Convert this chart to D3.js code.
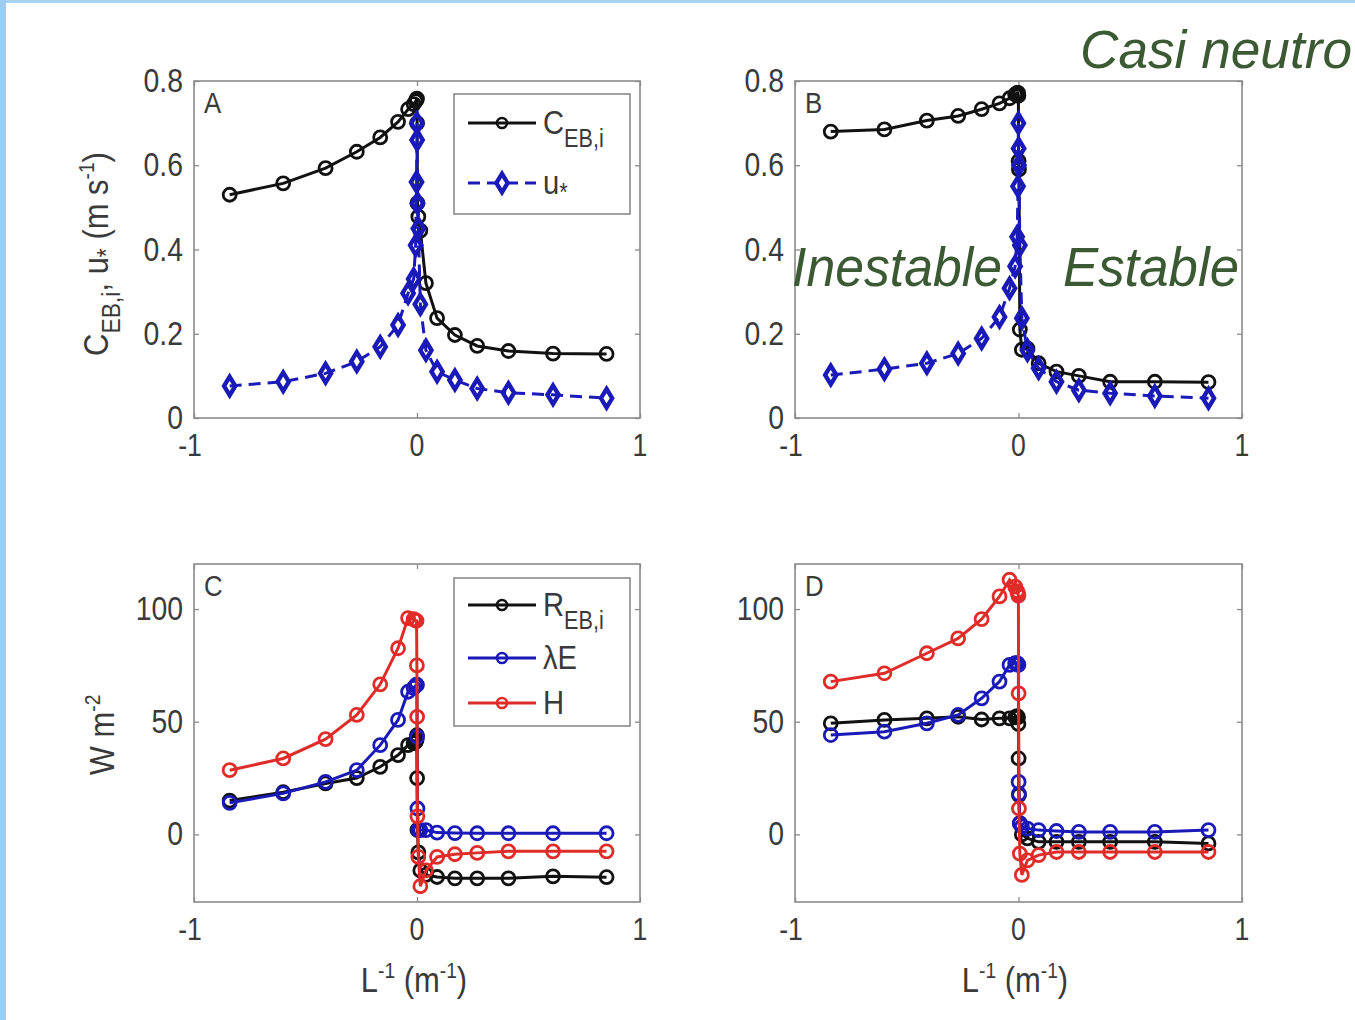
<!DOCTYPE html>
<html>
<head>
<meta charset="utf-8">
<script src="https://cdn.jsdelivr.net/npm/d3@7/dist/d3.min.js"></script>
<style>
  html, body { margin: 0; padding: 0; background: #fff; }
  svg { display: block; }
  text { font-family: "Liberation Sans", Arial, sans-serif; }
</style>
</head>
<body>
<svg id="chart" width="1355" height="1020"></svg>
<script>
// Inverse Obukhov length bins (m^-1), shared by all four panels
const invL = [-0.84, -0.60, -0.41, -0.27, -0.165, -0.085, -0.04, -0.015, -0.006, -0.002, -0.0005,
              0.0005, 0.002, 0.006, 0.015, 0.04, 0.09, 0.17, 0.27, 0.41, 0.61, 0.85];

// Panel A: coefficient C_EB,i and friction velocity u*
const cebA   = [0.53, 0.557, 0.593, 0.632, 0.666, 0.703, 0.733, 0.745, 0.752, 0.756, 0.758,
                0.70, 0.51, 0.478, 0.445, 0.32, 0.237, 0.197, 0.171, 0.159, 0.153, 0.152];
const ustarA = [0.076, 0.086, 0.106, 0.134, 0.169, 0.221, 0.296, 0.33, 0.41, 0.56, 0.70,
                0.66, 0.51, 0.45, 0.27, 0.161, 0.11, 0.09, 0.07, 0.06, 0.055, 0.047];

// Panel B
const cebB   = [0.68, 0.685, 0.706, 0.717, 0.733, 0.747, 0.759, 0.768, 0.772, 0.772, 0.765,
                0.61, 0.59, 0.21, 0.162, 0.165, 0.13, 0.11, 0.10, 0.086, 0.086, 0.085];
const ustarB = [0.102, 0.116, 0.13, 0.153, 0.189, 0.24, 0.308, 0.36, 0.43, 0.55, 0.70,
                0.64, 0.60, 0.41, 0.237, 0.161, 0.118, 0.086, 0.066, 0.059, 0.052, 0.047];

// Panel C: energy fluxes (W m^-2)
const rebC = [15, 18.7, 22.6, 25, 30, 35.2, 39.6, 40.5, 41, 42, 44,
              25, 2, -8, -16, -18, -18.9, -19.5, -19.5, -19.5, -18.6, -19];
const leC  = [14, 18.2, 23.3, 28.5, 39.6, 50.8, 63.3, 65, 66, 66.5, 66.3,
              43.3, 11.5, 1.9, 1.9, 1.9, 0.8, 0.6, 0.5, 0.5, 0.5, 0.5];
const hC   = [28.5, 33.7, 42.3, 53, 66.6, 82.6, 96, 95.5, 95, 94.8, 75,
              52.2, 8, -10, -23, -16, -10, -8.8, -8.2, -7.5, -7.5, -7.5];

// Panel D
const rebD = [49.3, 50.8, 51.5, 52.2, 51, 51.5, 51.5, 52, 52.5, 52, 49,
              33.7, 17.4, 5, 0, -1.8, -3.3, -3.3, -3.3, -3.3, -3.3, -4];
const leD  = [44.1, 45.6, 49.3, 53, 60.4, 67.8, 75.2, 76, 76, 75.5, 75.2,
              23.3, 18, 4.8, 3.5, 2.6, 1.9, 1.5, 1.1, 1.1, 1.1, 1.9];
const hD   = [67.8, 71.5, 80.4, 87, 95.5, 105.6, 113, 110, 108, 107, 106,
              62.6, 11.5, -8.5, -18, -11.5, -9.2, -7.8, -7.8, -7.8, -7.8, -7.8];

const xTicks = [-1, 0, 1];
const yTicksTop = [0, 0.2, 0.4, 0.6, 0.8];
const yTicksBottom = [0, 50, 100];

const BLACK = "#111111", BLUE = "#1a1ab8", RED = "#df2c28";
const TXT = "#3a3a3a", FRAME = "#8a8a8a", GREEN = "#3b5a34";

const svg = d3.select("#chart");

// light blue slide frame along the left and top edges
svg.append("rect").attr("x", 0).attr("y", 0).attr("width", 1355).attr("height", 3).attr("fill", "#a8d2f4");
svg.append("rect").attr("x", 0).attr("y", 0).attr("width", 6).attr("height", 1020).attr("fill", "#9fcdf2");

// text helper: slightly condensed glyphs
function label(g, x, y, anchor, size, parts, rotate) {
  const t = g.append("text")
    .attr("transform", `translate(${x},${y})` + (rotate ? ` rotate(${rotate})` : "") + " scale(0.86,1)")
    .attr("text-anchor", anchor)
    .attr("font-size", size)
    .attr("fill", TXT);
  parts.forEach(p => {
    const s = t.append("tspan").text(p.t);
    if (p.sub) s.attr("font-size", size * 0.74).attr("dy", p.dy);
    if (p.sup) s.attr("font-size", size * 0.62).attr("dy", p.dy);
    if (p.back) s.attr("dy", p.back);
  });
  return t;
}

function marker(g, kind, cx, cy, color) {
  if (kind === "diamond") {
    g.append("path")
      .attr("d", d3.symbol(d3.symbolDiamond, 100)())
      .attr("transform", `translate(${cx},${cy}) scale(1.05,1)`)
      .attr("fill", "none").attr("stroke", color).attr("stroke-width", 4.2);
  } else {
    g.append("circle").attr("cx", cx).attr("cy", cy).attr("r", 6.5)
      .attr("fill", "none").attr("stroke", color).attr("stroke-width", 2.8);
  }
}

function panel(cfg) {
  const g = svg.append("g");
  const x = d3.scaleLinear().domain([-1, 1]).range([cfg.x0, cfg.x1]);
  const y = d3.scaleLinear().domain(cfg.yDomain).range([cfg.y1, cfg.y0]);

  g.append("rect").attr("x", cfg.x0).attr("y", cfg.y0)
    .attr("width", cfg.x1 - cfg.x0).attr("height", cfg.y1 - cfg.y0)
    .attr("fill", "#fff").attr("stroke", FRAME).attr("stroke-width", 1.6);

  // inward ticks on all four sides
  const tl = 5;
  const axB = d3.axisBottom(x).tickValues(xTicks).tickSize(-tl).tickFormat("");
  const axT = d3.axisTop(x).tickValues(xTicks).tickSize(-tl).tickFormat("");
  const axL = d3.axisLeft(y).tickValues(cfg.yTicks).tickSize(-tl).tickFormat("");
  const axR = d3.axisRight(y).tickValues(cfg.yTicks).tickSize(-tl).tickFormat("");
  [[axB, `translate(0,${cfg.y1})`], [axT, `translate(0,${cfg.y0})`],
   [axL, `translate(${cfg.x0},0)`], [axR, `translate(${cfg.x1},0)`]].forEach(([ax, tr]) => {
    const a = g.append("g").attr("transform", tr).call(ax);
    a.select(".domain").remove();
    a.selectAll("line").attr("stroke", FRAME).attr("stroke-width", 1.3);
  });

  // tick labels
  xTicks.forEach(v => {
    label(g, x(v) + (v === -1 ? -4 : 0), cfg.y1 + 38, "middle", 31, [{ t: v < 0 ? "-1" : String(v) }]);
  });
  cfg.yTicks.forEach(v => {
    label(g, cfg.x0 - 11, y(v) + 11, "end", 33, [{ t: cfg.fmt(v) }]);
  });

  label(g, cfg.x0 + 10, cfg.y0 + 32, "start", 30, [{ t: cfg.letter }]);

  const line = d3.line().x((d, i) => x(invL[i])).y(d => y(d));
  cfg.series.forEach(s => {
    g.append("path").datum(s.values)
      .attr("d", line).attr("fill", "none")
      .attr("stroke", s.color).attr("stroke-width", 3)
      .attr("stroke-dasharray", s.dash || null);
    const pts = g.append("g");
    s.values.forEach((d, i) => marker(pts, s.marker, x(invL[i]), y(d), s.color));
  });
  return { g, x, y };
}

const topCfg = { y0: 81, y1: 418, yDomain: [0, 0.8], yTicks: yTicksTop, fmt: d => d === 0 ? "0" : String(d) };
const botCfg = { y0: 564, y1: 902, yDomain: [-30, 120], yTicks: yTicksBottom, fmt: d => String(d) };

panel(Object.assign({}, topCfg, { x0: 194, x1: 640, letter: "A", series: [
  { values: cebA, color: BLACK, marker: "circle" },
  { values: ustarA, color: BLUE, marker: "diamond", dash: "12,7" }
]}));
panel(Object.assign({}, topCfg, { x0: 795, x1: 1242, letter: "B", series: [
  { values: cebB, color: BLACK, marker: "circle" },
  { values: ustarB, color: BLUE, marker: "diamond", dash: "12,7" }
]}));
panel(Object.assign({}, botCfg, { x0: 194, x1: 640, letter: "C", series: [
  { values: rebC, color: BLACK, marker: "circle" },
  { values: leC, color: BLUE, marker: "circle" },
  { values: hC, color: RED, marker: "circle" }
]}));
panel(Object.assign({}, botCfg, { x0: 795, x1: 1242, letter: "D", series: [
  { values: rebD, color: BLACK, marker: "circle" },
  { values: leD, color: BLUE, marker: "circle" },
  { values: hD, color: RED, marker: "circle" }
]}));

// legends
function legend(x0, y0, w, h, rows) {
  const g = svg.append("g");
  g.append("rect").attr("x", x0).attr("y", y0).attr("width", w).attr("height", h)
    .attr("fill", "#fff").attr("stroke", FRAME).attr("stroke-width", 1.6);
  rows.forEach(r => {
    g.append("line").attr("x1", x0 + 14).attr("x2", x0 + 82).attr("y1", r.y).attr("y2", r.y)
      .attr("stroke", r.color).attr("stroke-width", 3).attr("stroke-dasharray", r.dash || null);
    if (r.marker === "diamond") {
      marker(g, "diamond", x0 + 48, r.y, r.color);
    } else {
      g.append("circle").attr("cx", x0 + 48).attr("cy", r.y).attr("r", 5)
        .attr("fill", "none").attr("stroke", r.color).attr("stroke-width", 2.6);
    }
    label(g, x0 + 89, r.y + 11, "start", 34, r.parts);
  });
}
legend(454, 94, 176, 120, [
  { y: 123, color: BLACK, marker: "circle", parts: [{ t: "C" }, { t: "EB,i", sub: true, dy: 13 }] },
  { y: 183, color: BLUE, marker: "diamond", dash: "12,7", parts: [{ t: "u" }, { t: "*", sub: true, dy: 7 }] }
]);
legend(454, 578, 176, 148, [
  { y: 605, color: BLACK, marker: "circle", parts: [{ t: "R" }, { t: "EB,i", sub: true, dy: 13 }] },
  { y: 658, color: BLUE, marker: "circle", parts: [{ t: "λE" }] },
  { y: 703, color: RED, marker: "circle", parts: [{ t: "H" }] }
]);

// axis titles
label(svg, 108, 254, "middle", 36, [
  { t: "C" }, { t: "EB,i", sub: true, dy: 12 }, { t: ", u", back: -12 }, { t: "*", sub: true, dy: 7 },
  { t: " (m s", back: -7 }, { t: "-1", sup: true, dy: -14 }, { t: ")", back: 14 }
], -90);
label(svg, 114, 735, "middle", 36, [{ t: "W m" }, { t: "-2", sup: true, dy: -14 }], -90);
[414, 1015].forEach(cx => {
  label(svg, cx, 992, "middle", 36, [
    { t: "L" }, { t: "-1", sup: true, dy: -14 }, { t: " (m", back: 14 }, { t: "-1", sup: true, dy: -14 }, { t: ")", back: 14 }
  ]);
});

// regime annotations
function note(x, y, str, width, size) {
  svg.append("text").attr("x", x).attr("y", y)
    .attr("font-size", size).attr("font-style", "italic").attr("fill", GREEN)
    .attr("textLength", width).attr("lengthAdjust", "spacingAndGlyphs")
    .text(str);
}
note(1080, 68, "Casi neutro", 272, 54);
note(792, 286, "Inestable", 210, 56);
note(1063, 286, "Estable", 176, 56);
</script>
</body>
</html>
